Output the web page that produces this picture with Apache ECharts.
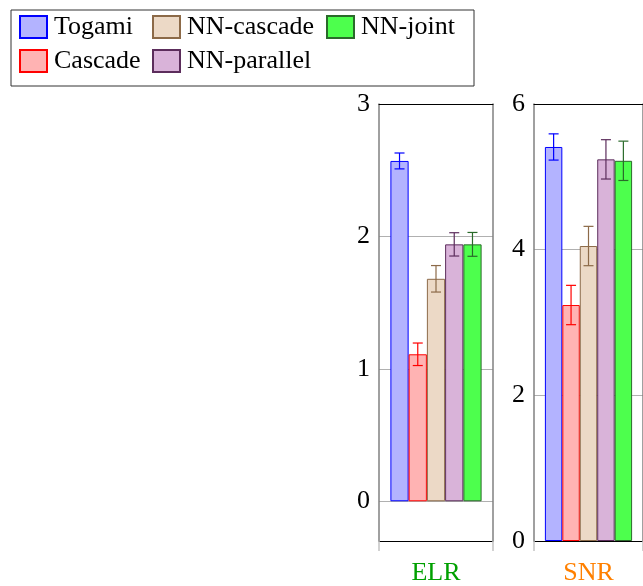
<!DOCTYPE html>
<html>
<head>
<meta charset="utf-8">
<script src="https://cdn.jsdelivr.net/npm/echarts@6/dist/echarts.min.js"></script>
<style>
html,body{margin:0;padding:0;background:#fff;}
#chart{width:643px;height:586px;}
</style>
</head>
<body>
<div id="chart"></div>
<script>
// ---- data ----
const methods = ['Togami', 'Cascade', 'NN-cascade', 'NN-parallel', 'NN-joint'];
const panels = ['ELR', 'SNR'];
const elrValues = [2.57, 1.11, 1.68, 1.94, 1.94];
const elrErrors = [0.06, 0.085, 0.10, 0.088, 0.09];
const snrValues = [5.41, 3.24, 4.05, 5.24, 5.22];
const snrErrors = [0.18, 0.27, 0.27, 0.27, 0.27];
const elrTicks = [0, 1, 2, 3];
const snrTicks = [0, 2, 4, 6];

// ---- styles ----
const fills = ['#b3b3ff', '#ffb3b3', '#ecd9c6', '#d9b3d9', '#4dff4d'];
const borders = ['#0000ff', '#ff0000', '#8c6a48', '#5c2d5c', '#2a6a2a'];
const panelColors = ['#00a000', '#ff8000'];
const FONT = 'Liberation Serif';
const FS = 26;

const chart = echarts.init(document.getElementById('chart'));

function makeAxes(gi, label, color, min, max, ticks) {
  const xAxes = [
    {
      gridIndex: gi, type: 'category', data: [label], position: 'bottom',
      axisLine: { onZero: false, lineStyle: { color: '#000', width: 1 } },
      axisTick: { show: true, length: 10, lineStyle: { color: '#c4c4c4', width: 1.5 } },
      axisLabel: { color: color, fontSize: FS, fontFamily: FONT, margin: 19 },
      splitLine: { show: false }
    },
    {
      gridIndex: gi, type: 'category', data: [label], position: 'top',
      axisLine: { onZero: false, lineStyle: { color: '#000', width: 1 } },
      axisTick: { show: false }, axisLabel: { show: false }, splitLine: { show: false }
    }
  ];
  const yAxes = [
    {
      gridIndex: gi, type: 'value', min: min, max: max, position: 'left',
      axisLine: { show: true, onZero: false, lineStyle: { color: '#808080', width: 1.5 } },
      axisTick: { show: false, customValues: ticks },
      axisLabel: { customValues: ticks, color: '#000', fontSize: FS, fontFamily: FONT, margin: 9 },
      splitLine: { show: true, lineStyle: { color: '#b0b0b0', width: 1 } }
    },
    {
      gridIndex: gi, type: 'value', min: min, max: max, position: 'right',
      axisLine: { show: true, onZero: false, lineStyle: { color: '#808080', width: 1.5 } },
      axisTick: { show: false }, axisLabel: { show: false }, splitLine: { show: false }
    }
  ];
  return { xAxes, yAxes };
}

const a0 = makeAxes(0, panels[0], panelColors[0], -0.3, 3, elrTicks);
const a1 = makeAxes(1, panels[1], panelColors[1], 0, 6, snrTicks);
const xAxis = a0.xAxes.concat(a1.xAxes);
const yAxis = a0.yAxes.concat(a1.yAxes);

const series = [];
function addPanel(values, errors, xi, yi) {
  methods.forEach((m, i) => {
    series.push({
      name: m, type: 'bar', xAxisIndex: xi, yAxisIndex: yi,
      data: [values[i]],
      barGap: '0%', barCategoryGap: '20%',
      itemStyle: { color: fills[i], borderColor: borders[i], borderWidth: 1 },
      emphasis: { disabled: true },
      z: 2
    });
  });
  series.push({
    type: 'custom', xAxisIndex: xi, yAxisIndex: yi, z: 5,
    data: values.map((v, i) => [0, v, errors[i], i]),
    renderItem: function (params, api) {
      const v = api.value(1), e = api.value(2), idx = api.value(3);
      const band = api.size([1, 0])[0];
      const barW = band * 0.8 / methods.length;
      const c = api.coord([0, v]);
      const x = c[0] + (idx - (methods.length - 1) / 2) * barW;
      const yt = api.coord([0, v + e])[1];
      const yb = api.coord([0, v - e])[1];
      const col = borders[idx];
      const st = { stroke: col, lineWidth: 1.2 };
      return {
        type: 'group',
        children: [
          { type: 'line', shape: { x1: x, y1: yt, x2: x, y2: yb }, style: st },
          { type: 'line', shape: { x1: x - 5, y1: yt, x2: x + 5, y2: yt }, style: st },
          { type: 'line', shape: { x1: x - 5, y1: yb, x2: x + 5, y2: yb }, style: st }
        ]
      };
    }
  });
}
addPanel(elrValues, elrErrors, 0, 0);
addPanel(snrValues, snrErrors, 2, 2);

const legendText = { fontSize: FS, fontFamily: FONT, color: '#000', padding: [0, 0, 0, 2] };
function legendCol(left, names) {
  return {
    orient: 'vertical', left: left, top: 14, padding: 0,
    itemWidth: 27, itemHeight: 22, itemGap: 8,
    icon: 'rect', data: names, textStyle: legendText,
    selectedMode: false
  };
}

chart.setOption({
  backgroundColor: '#fff',
  animation: false,
  grid: [
    { left: 379, width: 114, top: 104, bottom: 45 },
    { left: 534, width: 114, top: 104, bottom: 45 }
  ],
  xAxis: xAxis,
  yAxis: yAxis,
  legend: [
    legendCol(19, [methods[0], methods[1]]),
    legendCol(152, [methods[2], methods[3]]),
    legendCol(326, [methods[4]])
  ],
  graphic: [
    { type: 'rect', shape: { x: 11, y: 10, width: 463, height: 76 },
      style: { fill: 'none', stroke: '#333', lineWidth: 1 }, z: 0 }
  ],
  series: series
});
</script>
</body>
</html>
